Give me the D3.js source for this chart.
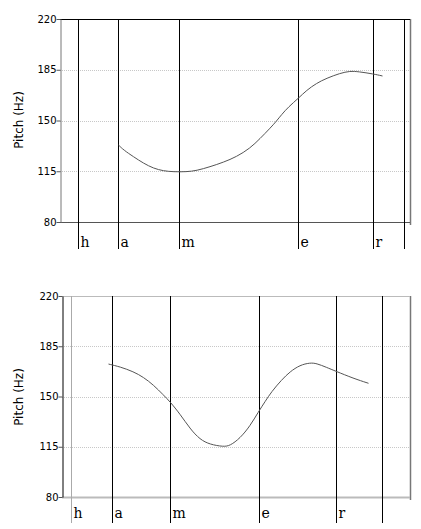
<!DOCTYPE html>
<html><head><meta charset="utf-8">
<script src="https://cdn.jsdelivr.net/npm/d3@7"></script>
<style>body{margin:0;background:#fff}svg{display:block}</style>
</head><body>
<svg id="c" width="421" height="529"></svg>
<script>
// ---- data ----
const segLabels = ["h","a","m","e","r"];
const yTicks = [80,115,150,185,220];
// panel 1 (times in ms)
const bounds1 = [36,115,239,477,626,688];
const time1  = [117,127,147,167,187,207,227,253,273,300,327,353,380,400,420,433,443,457,477,493,513,533,560,580,597,627,645];
const pitch1 = [133.1,129.7,125.0,120.5,117.0,115.2,114.6,114.6,115.4,118.1,121.2,125.0,130.8,137.5,144.6,149.6,154.0,159.4,165.4,170.8,175.7,179.1,182.6,184.1,183.7,182.1,180.7];
// panel 2
const bounds2 = [17,99,215,393,547,639];
const time2  = [93,116,143,163,183,203,216,236,256,276,296,323,336,356,376,393,406,419,439,456,476,496,509,529,547,583,613];
const pitch2 = [172.6,170.7,167.3,163.4,158.0,151.0,146.4,137.8,127.6,120.0,116.6,115.0,115.7,120.9,129.4,139.4,146.4,153.3,161.5,167.3,171.9,173.5,173.1,170.3,167.7,162.6,159.2];

const svg = d3.select("#c");
const SANS = "'DejaVu Sans', Verdana, sans-serif";
const SERIF = "'DejaVu Serif', 'Liberation Serif', serif";
const panels = [
  {L:60,R:410,T:19,B:222,lineEnd:249,labY:247,dom:[0,700],bounds:bounds1,time:time1,pitch:pitch1,
   topC:"#000",botC:"#555",botW:1,leftC:"#777",firstC:"#000",labelY:120},
  {L:62,R:410,T:296,B:497,lineEnd:523,labY:518,dom:[0,696],bounds:bounds2,time:time2,pitch:pitch2,
   topC:"#bbb",botC:"#bbb",botW:2,leftC:"#000",firstC:"#aaa",labelY:397}
];

panels.forEach(p=>{
  const g = svg.append("g");
  const x = d3.scaleLinear().domain(p.dom).range([p.L,p.R]);
  const y = d3.scaleLinear().domain([80,220]).range([p.B,p.T]);
  // grid
  g.selectAll(".grid").data(yTicks.filter(v=>v>80&&v<220)).join("line")
    .attr("x1",p.L).attr("x2",p.R).attr("y1",d=>Math.round(y(d))+0.5).attr("y2",d=>Math.round(y(d))+0.5)
    .attr("stroke","#c8c8c8").attr("stroke-dasharray","1,1");
  // right border
  g.append("line").attr("x1",p.R+0.5).attr("x2",p.R+0.5).attr("y1",p.T).attr("y2",p.B+3)
    .attr("stroke","#777").attr("stroke-width",1.5);
  // top border
  g.append("line").attr("x1",p.L).attr("x2",p.R).attr("y1",p.T+0.5).attr("y2",p.T+0.5).attr("stroke",p.topC);
  // bottom border
  g.append("line").attr("x1",p.L).attr("x2",p.R).attr("y1",p.B+0.5).attr("y2",p.B+0.5)
    .attr("stroke",p.botC).attr("stroke-width",p.botW);
  // axis
  const ax = g.append("g").attr("transform",`translate(${p.L+0.5},0)`)
    .call(d3.axisLeft(y).tickValues(yTicks).tickSize(4).tickPadding(0).tickSizeOuter(0));
  ax.select(".domain").attr("stroke",p.leftC);
  ax.selectAll(".tick line").attr("stroke","#555");
  ax.selectAll("text").attr("font-family",SANS).attr("font-size",10).attr("fill","#000");
  // y label
  g.append("text").attr("transform",`translate(23,${p.labelY}) rotate(-90)`).attr("text-anchor","middle")
    .attr("font-family",SANS).attr("font-size",12).text("Pitch (Hz)");
  // boundaries
  g.selectAll(".b").data(p.bounds).join("line")
    .attr("x1",d=>Math.round(x(d))+0.5).attr("x2",d=>Math.round(x(d))+0.5)
    .attr("y1",p.T).attr("y2",p.lineEnd)
    .attr("stroke",(d,i)=>i===0?p.firstC:"#000");
  // segment labels
  g.selectAll(".s").data(segLabels).join("text")
    .attr("x",(d,i)=>Math.round(x(p.bounds[i]))+2.5).attr("y",p.labY)
    .attr("font-family",SERIF).attr("font-size",14).text(d=>d);
  // pitch curve
  const pts = p.time.map((t,i)=>[t,p.pitch[i]]);
  g.append("path").datum(pts)
    .attr("d",d3.line().x(d=>x(d[0])).y(d=>y(d[1])).curve(d3.curveBasis))
    .attr("fill","none").attr("stroke","#555").attr("stroke-width",1);
});
</script>
</body></html>
